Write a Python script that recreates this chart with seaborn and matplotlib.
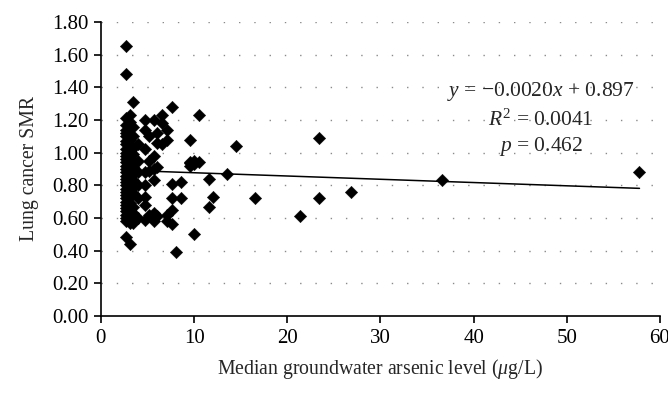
import numpy as np
import pandas as pd
import matplotlib
matplotlib.use("Agg")
import matplotlib.pyplot as plt
from matplotlib.ticker import FormatStrFormatter
import seaborn as sns

# arsenic level (ug/L) and lung cancer SMR
arsenic = (
    [2.7] * 33 + [3.1] * 19 + [3.5] * 14 + [4.0] * 6 + [4.7] * 8 + [5.2] * 4
    + [5.65] * 6 + [6.0] * 4 + [6.55] * 3 + [7.1] * 4 + [7.6] * 5 + [8.1]
    + [8.6] * 2 + [9.6] * 4 + [10.0] * 3 + [10.5] * 2 + [11.6] * 2 + [12.0]
    + [13.5] + [14.5] + [16.5] + [21.4] + [23.4] * 2 + [26.8] + [36.6] + [57.8]
)
smr = (
    [1.65, 1.48, 1.21, 1.17, 1.14, 1.12, 1.10, 1.07, 1.05, 1.02, 1.00, 0.98,
     0.96, 0.94, 0.92, 0.90, 0.88, 0.86, 0.84, 0.82, 0.80, 0.78, 0.76, 0.74,
     0.72, 0.70, 0.68, 0.66, 0.64, 0.62, 0.60, 0.58, 0.485]
    + [1.23, 1.19, 1.15, 1.11, 1.08, 1.04, 1.01, 0.97, 0.93, 0.89, 0.85, 0.81,
       0.77, 0.73, 0.69, 0.65, 0.61, 0.57, 0.44]
    + [1.31, 1.16, 1.10, 1.03, 0.99, 0.91, 0.87, 0.83, 0.79, 0.75, 0.67, 0.63,
       0.59, 0.57]
    + [1.05, 0.95, 0.88, 0.80, 0.72, 0.60]
    + [1.20, 1.14, 1.02, 0.88, 0.80, 0.73, 0.68, 0.59]
    + [1.10, 0.95, 0.89, 0.62]
    + [1.20, 0.98, 0.90, 0.83, 0.63, 0.58]
    + [1.12, 1.06, 0.915, 0.61]
    + [1.23, 1.18, 1.05]
    + [1.14, 1.08, 0.58, 0.62]
    + [1.28, 0.81, 0.72, 0.65, 0.565]
    + [0.39]
    + [0.82, 0.72]
    + [1.08, 0.935, 0.94, 0.92]
    + [0.95, 0.93, 0.50]
    + [1.23, 0.94]
    + [0.84, 0.67]
    + [0.73]
    + [0.87]
    + [1.04]
    + [0.72]
    + [0.61]
    + [1.09, 0.72]
    + [0.76]
    + [0.83]
    + [0.88]
)

slope = -0.0020
intercept = 0.897

df = pd.DataFrame({"arsenic": arsenic, "smr": smr})

sns.set_style("ticks")
plt.rcParams['font.family'] = ['Liberation Serif', 'DejaVu Serif']
plt.rcParams['mathtext.fontset'] = 'custom'
plt.rcParams['mathtext.rm'] = 'Liberation Serif'
plt.rcParams['mathtext.it'] = 'Liberation Serif:italic'

fig = plt.figure(figsize=(6.68, 3.99), dpi=100)
ax = fig.add_axes([0.151, 0.208, 0.837, 0.737])

sns.scatterplot(data=df, x="arsenic", y="smr", marker="D", color="black",
                s=40, edgecolor="black", linewidth=0.3, ax=ax, zorder=3)

# trend line from the reported regression
xl = np.array([df["arsenic"].min(), df["arsenic"].max()])
ax.plot(xl, intercept + slope * xl, color="black", lw=1.1, zorder=2)

ax.set_xlim(0, 60)
ax.set_ylim(0, 1.8)
ax.set_xticks(np.arange(0, 61, 10))
ax.set_yticks(np.arange(0, 1.81, 0.2))
ax.yaxis.set_major_formatter(FormatStrFormatter('%.2f'))
for yv in np.arange(0.2, 1.81, 0.2):
    ax.axhline(yv, color="#8a8a8a", lw=1.0, ls=(0, (1, 10)), zorder=1)

sns.despine(ax=ax)
for sp in ["left", "bottom"]:
    ax.spines[sp].set_linewidth(1.2)
    ax.spines[sp].set_color("black")
ax.tick_params(axis="both", direction="out", length=5, width=1.2,
               labelsize=15, colors="black", pad=4)

ax.set_xlabel(r"Median groundwater arsenic level ($\mu$g/L)", fontsize=14.2,
              labelpad=7)
ax.set_ylabel("Lung cancer SMR", fontsize=14.2, labelpad=9)

ax.text(47.2, 1.372, r"$y$ = $-$0.0020$x$ + 0.897", ha="center", va="center",
        fontsize=15.5)
ax.text(47.2, 1.20, r"$R^2$ = 0.0041", ha="center", va="center", fontsize=15.5)
ax.text(47.2, 1.04, r"$p$ = 0.462", ha="center", va="center", fontsize=15.5)

fig.savefig("out.png", dpi=100)
